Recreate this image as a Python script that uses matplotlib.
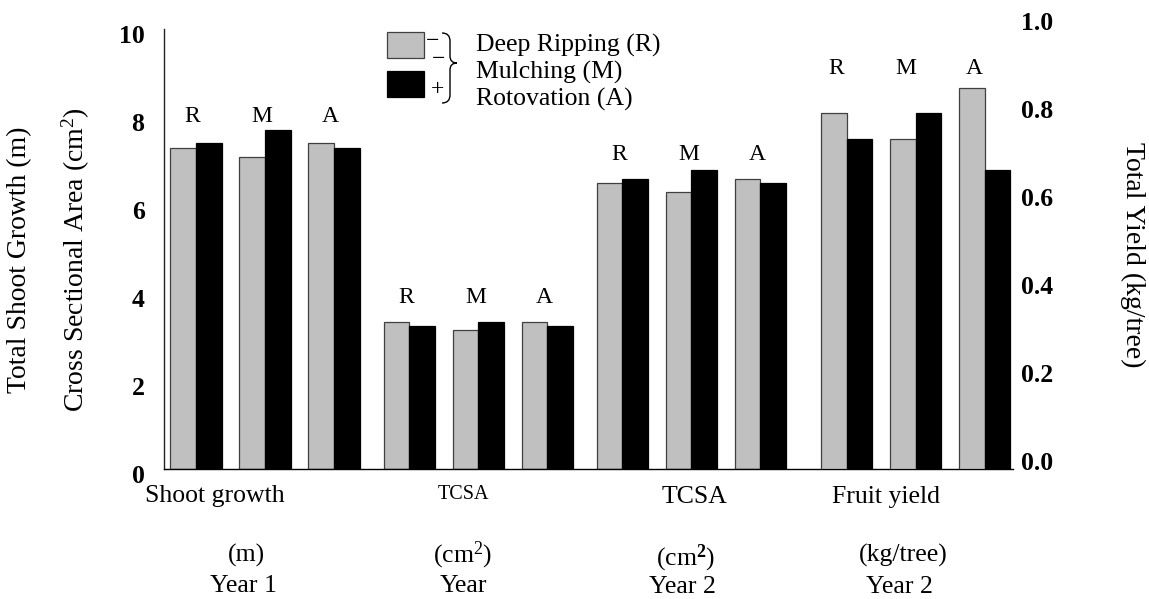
import matplotlib
matplotlib.use('Agg')
import matplotlib.pyplot as plt
import matplotlib.transforms as mtransforms
from matplotlib.patches import Rectangle, PathPatch
from matplotlib.path import Path

plt.rcParams['font.family'] = ['Liberation Serif', 'DejaVu Serif']
plt.rcParams['mathtext.fontset'] = 'custom'
plt.rcParams['mathtext.rm'] = 'Liberation Serif'
plt.rcParams['mathtext.it'] = 'Liberation Serif:italic'
plt.rcParams['mathtext.bf'] = 'Liberation Serif:bold'

# ---------------- data ----------------
treatments = ['R', 'M', 'A']
shoot_minus = [7.3, 7.1, 7.4]      # Year 1 shoot growth (m), without treatment
shoot_plus = [7.4, 7.7, 7.3]       # with treatment
tcsa1_minus = [3.35, 3.15, 3.35]   # TCSA year 1 (cm2)
tcsa1_plus = [3.25, 3.35, 3.25]
tcsa2_minus = [6.5, 6.3, 6.6]      # TCSA year 2 (cm2)
tcsa2_plus = [6.6, 6.8, 6.5]
yield_minus = [0.81, 0.75, 0.865]  # Fruit yield year 2 (kg/tree)
yield_plus = [0.75, 0.81, 0.68]

left_ticks = [0, 2, 4, 6, 8, 10]
right_ticks = [0.0, 0.2, 0.4, 0.6, 0.8, 1.0]
right_tick_labels = ['0.0', '0.2', '0.4', '0.6', '0.8', '1.0']
legend_labels = ['Deep Ripping (R)', 'Mulching (M)', 'Rotovation (A)']

# ---------------- layout ----------------
W, H = 1149, 599
GREY = '#c0c0c0'
GROUP_STEP = 3.09
EXTRA = [0.0, 0.0, 0.0, 0.16]
BW = 0.37
LETTER_Y = [8.0, 3.9, 7.15, 0.91]
LETTER_DX = [-0.05, -0.04, -0.04, -0.15]

fig = plt.figure(figsize=(W / 100, H / 100), dpi=100)
ax = fig.add_axes([164 / W, (H - 469) / H, (1013 - 164) / W, (469 - 29) / H])
ax2 = ax.twinx()

ax.set_xlim(-32 / 69, (1013 - 196) / 69)
ax.set_ylim(0, 10)
ax2.set_ylim(0, 1.0)

def fx(px):
    return px / W

def fy(py):
    return 1 - py / H

groups = [
    (ax, shoot_minus, shoot_plus),
    (ax, tcsa1_minus, tcsa1_plus),
    (ax, tcsa2_minus, tcsa2_plus),
    (ax2, yield_minus, yield_plus),
]

for g, (a, minus, plus) in enumerate(groups):
    centers = [g * GROUP_STEP + EXTRA[g] + j for j in range(len(treatments))]
    a.bar([c - BW / 2 for c in centers], minus, width=BW, color=GREY,
          edgecolor='#404040', linewidth=0.9, zorder=3)
    a.bar([c + BW / 2 for c in centers], plus, width=BW, color='black',
          edgecolor='black', linewidth=0.9, zorder=3)
    for j, c in enumerate(centers):
        a.text(c + LETTER_DX[g], LETTER_Y[g], treatments[j], ha='center',
               va='center', fontsize=17, zorder=4)

# axes styling
for a in (ax, ax2):
    for side in ('top', 'right', 'left', 'bottom'):
        a.spines[side].set_visible(False)
    a.set_xticks([])
ax.spines['left'].set_visible(True)
ax.spines['left'].set_linewidth(1.0)
ax.spines['left'].set_color('#222222')
ax.spines['bottom'].set_visible(True)
ax.spines['bottom'].set_linewidth(1.0)
ax.spines['bottom'].set_color('black')
ax.spines['bottom'].set_zorder(5)

ax.set_yticks(left_ticks)
ax.set_yticklabels([str(t) for t in left_ticks], fontweight='bold', fontsize=18.5)
ax.tick_params(axis='y', length=0, pad=14)
ax2.set_yticks(right_ticks)
ax2.set_yticklabels(right_tick_labels, fontweight='bold', fontsize=18.5)
ax2.tick_params(axis='y', length=0, pad=6)

off_l = mtransforms.ScaledTranslation(0, -5 / 100, fig.dpi_scale_trans)
for lbl in ax.get_yticklabels():
    lbl.set_transform(lbl.get_transform() + off_l)
off_r = mtransforms.ScaledTranslation(0, 8 / 100, fig.dpi_scale_trans)
for lbl in ax2.get_yticklabels():
    lbl.set_transform(lbl.get_transform() + off_r)

# axis titles
fig.text(fx(20), fy(260), 'Total Shoot Growth (m)', rotation=90,
         ha='center', va='center', fontsize=20)
fig.text(fx(76), fy(260), r'Cross Sectional Area (cm$^{2}$)', rotation=90,
         ha='center', va='center', fontsize=20)
fig.text(fx(1133), fy(255), 'Total Yield (kg/tree)', rotation=270,
         ha='center', va='center', fontsize=20)

# category labels below the axis
cat_texts = [
    (215, 502, 'Shoot growth', 18.5),
    (463, 499, 'TCSA', 14.5),
    (694, 503, 'TCSA', 18.5),
    (886, 503, 'Fruit yield', 18.5),
    (246, 562, '(m)', 18.5),
    (243, 592, 'Year 1', 18.5),
    (463, 562, r'(cm$^{2}$)', 18.5),
    (463, 592, 'Year', 18.5),
    (686, 565, r'(cm$^{\mathbf{2}}$)', 18.5),
    (682, 593, 'Year 2', 18.5),
    (903, 562, '(kg/tree)', 18.5),
    (899, 593, 'Year 2', 18.5),
]
for x, y, s, fs in cat_texts:
    fig.text(fx(x), fy(y), s, ha='center', va='baseline', fontsize=fs)

# legend
fig.patches.append(Rectangle((fx(387), fy(58)), (424 - 387) / W, (58 - 32) / H,
                             transform=fig.transFigure, facecolor=GREY,
                             edgecolor='#404040', linewidth=0.9))
fig.patches.append(Rectangle((fx(387), fy(97)), (424 - 387) / W, (97 - 71) / H,
                             transform=fig.transFigure, facecolor='black',
                             edgecolor='black', linewidth=0.9))
fig.text(fx(433), fy(42), '\u2212', ha='center', va='center', fontsize=17)
fig.text(fx(439), fy(60), '\u2212', ha='center', va='center', fontsize=17)
fig.text(fx(438), fy(90), '+', ha='center', va='center', fontsize=17)

brace_px = [(442, 33), (450, 33), (450, 41), (450, 56), (450, 63),
            (457, 63), (450, 63), (450, 70), (450, 95), (450, 103), (442, 103)]
codes = [Path.MOVETO, Path.CURVE3, Path.CURVE3, Path.LINETO, Path.CURVE3,
         Path.CURVE3, Path.CURVE3, Path.CURVE3, Path.LINETO, Path.CURVE3, Path.CURVE3]
brace = Path([(fx(x), fy(y)) for x, y in brace_px], codes)
fig.patches.append(PathPatch(brace, transform=fig.transFigure, facecolor='none',
                             edgecolor='black', linewidth=1.0))

for k, lab in enumerate(legend_labels):
    fig.text(fx(476), fy(45 + 27 * k), lab, ha='left', va='center', fontsize=18.5)

fig.savefig('out.png', dpi=100)
